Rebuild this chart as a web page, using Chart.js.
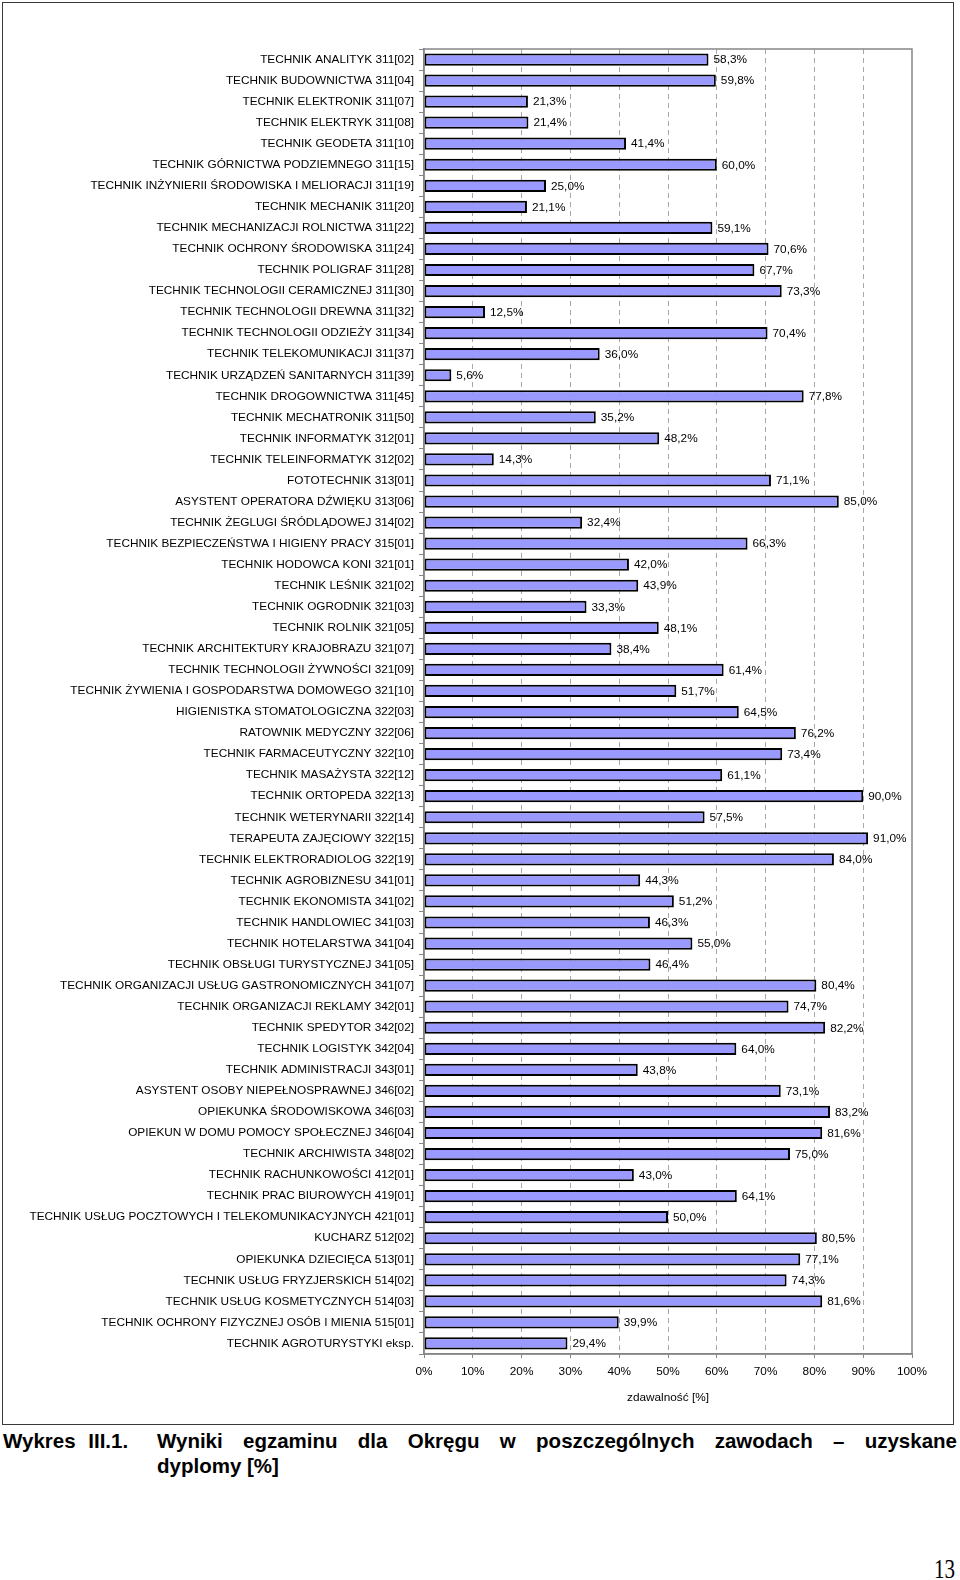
<!DOCTYPE html>
<html lang="pl">
<head>
<meta charset="utf-8">
<title>Wykres III.1</title>
<script src="https://cdn.jsdelivr.net/npm/chart.js@4.4.1/dist/chart.umd.min.js"></script>
<style>
  html, body { margin: 0; padding: 0; background: #fff; }
  body { position: relative; width: 960px; height: 1580px; overflow: hidden; font-family: "Liberation Sans", Arial, sans-serif; }
  #frame { position: absolute; left: 2px; top: 2px; width: 952px; height: 1423px; border: 1.5px solid #3a3a3a; box-sizing: border-box; }
  #chart { position: absolute; left: 0; top: 0; }
  .cap { position: absolute; font-weight: bold; font-size: 20.5px; line-height: 22px; color: #000; white-space: nowrap; }
  #capNo { left: 3px; top: 1430px; word-spacing: 7px; }
  #capLine1 { left: 157px; top: 1430px; width: 800px; text-align: justify; text-align-last: justify; white-space: normal; }
  #capLine2 { left: 157px; top: 1455px; }
  #page { position: absolute; left: 934px; top: 1554px; font-family: "Liberation Serif", "Times New Roman", serif; font-size: 27px; line-height: 30px; transform: scaleX(0.78); transform-origin: left top; }
</style>
</head>
<body>
<div id="frame"></div>
<canvas id="chart" width="960" height="1420"></canvas>
<div class="cap" id="capNo">Wykres III.1.</div>
<div class="cap" id="capLine1">Wyniki egzaminu dla Okręgu w poszczególnych zawodach – uzyskane</div>
<div class="cap" id="capLine2">dyplomy [%]</div>
<div id="page">13</div>

<script>
// zawody (categories)
var zawody = [
  "TECHNIK ANALITYK 311[02]",
  "TECHNIK BUDOWNICTWA 311[04]",
  "TECHNIK ELEKTRONIK 311[07]",
  "TECHNIK ELEKTRYK 311[08]",
  "TECHNIK GEODETA 311[10]",
  "TECHNIK GÓRNICTWA PODZIEMNEGO 311[15]",
  "TECHNIK INŻYNIERII ŚRODOWISKA I MELIORACJI 311[19]",
  "TECHNIK MECHANIK 311[20]",
  "TECHNIK MECHANIZACJI ROLNICTWA 311[22]",
  "TECHNIK OCHRONY ŚRODOWISKA 311[24]",
  "TECHNIK POLIGRAF 311[28]",
  "TECHNIK TECHNOLOGII CERAMICZNEJ 311[30]",
  "TECHNIK TECHNOLOGII DREWNA 311[32]",
  "TECHNIK TECHNOLOGII ODZIEŻY 311[34]",
  "TECHNIK TELEKOMUNIKACJI 311[37]",
  "TECHNIK URZĄDZEŃ SANITARNYCH 311[39]",
  "TECHNIK DROGOWNICTWA 311[45]",
  "TECHNIK MECHATRONIK 311[50]",
  "TECHNIK INFORMATYK 312[01]",
  "TECHNIK TELEINFORMATYK 312[02]",
  "FOTOTECHNIK 313[01]",
  "ASYSTENT OPERATORA DŹWIĘKU 313[06]",
  "TECHNIK ŻEGLUGI ŚRÓDLĄDOWEJ 314[02]",
  "TECHNIK BEZPIECZEŃSTWA I HIGIENY PRACY 315[01]",
  "TECHNIK HODOWCA KONI 321[01]",
  "TECHNIK LEŚNIK 321[02]",
  "TECHNIK OGRODNIK 321[03]",
  "TECHNIK ROLNIK 321[05]",
  "TECHNIK ARCHITEKTURY KRAJOBRAZU 321[07]",
  "TECHNIK TECHNOLOGII ŻYWNOŚCI 321[09]",
  "TECHNIK ŻYWIENIA I GOSPODARSTWA DOMOWEGO 321[10]",
  "HIGIENISTKA STOMATOLOGICZNA 322[03]",
  "RATOWNIK MEDYCZNY 322[06]",
  "TECHNIK FARMACEUTYCZNY 322[10]",
  "TECHNIK MASAŻYSTA 322[12]",
  "TECHNIK ORTOPEDA 322[13]",
  "TECHNIK WETERYNARII 322[14]",
  "TERAPEUTA ZAJĘCIOWY 322[15]",
  "TECHNIK ELEKTRORADIOLOG 322[19]",
  "TECHNIK AGROBIZNESU 341[01]",
  "TECHNIK EKONOMISTA 341[02]",
  "TECHNIK HANDLOWIEC 341[03]",
  "TECHNIK HOTELARSTWA 341[04]",
  "TECHNIK OBSŁUGI TURYSTYCZNEJ 341[05]",
  "TECHNIK ORGANIZACJI USŁUG GASTRONOMICZNYCH 341[07]",
  "TECHNIK ORGANIZACJI REKLAMY 342[01]",
  "TECHNIK SPEDYTOR 342[02]",
  "TECHNIK LOGISTYK 342[04]",
  "TECHNIK ADMINISTRACJI 343[01]",
  "ASYSTENT OSOBY NIEPEŁNOSPRAWNEJ 346[02]",
  "OPIEKUNKA ŚRODOWISKOWA 346[03]",
  "OPIEKUN W DOMU POMOCY SPOŁECZNEJ 346[04]",
  "TECHNIK ARCHIWISTA 348[02]",
  "TECHNIK RACHUNKOWOŚCI 412[01]",
  "TECHNIK PRAC BIUROWYCH 419[01]",
  "TECHNIK USŁUG POCZTOWYCH I TELEKOMUNIKACYJNYCH 421[01]",
  "KUCHARZ 512[02]",
  "OPIEKUNKA DZIECIĘCA 513[01]",
  "TECHNIK USŁUG FRYZJERSKICH 514[02]",
  "TECHNIK USŁUG KOSMETYCZNYCH 514[03]",
  "TECHNIK OCHRONY FIZYCZNEJ OSÓB I MIENIA 515[01]",
  "TECHNIK AGROTURYSTYKI eksp."
];

// zdawalnosc [%]
var zdawalnosc = [
  58.3, 59.8, 21.3, 21.4, 41.4, 60.0, 25.0, 21.1, 59.1, 70.6,
  67.7, 73.3, 12.5, 70.4, 36.0, 5.6, 77.8, 35.2, 48.2, 14.3,
  71.1, 85.0, 32.4, 66.3, 42.0, 43.9, 33.3, 48.1, 38.4, 61.4,
  51.7, 64.5, 76.2, 73.4, 61.1, 90.0, 57.5, 91.0, 84.0, 44.3,
  51.2, 46.3, 55.0, 46.4, 80.4, 74.7, 82.2, 64.0, 43.8, 73.1,
  83.2, 81.6, 75.0, 43.0, 64.1, 50.0, 80.5, 77.1, 74.3, 81.6,
  39.9, 29.4
];

// x axis
var xMin = 0;
var xMax = 100;
var xStep = 10;
var xTitle = "zdawalność [%]";

var axisGray = "#868686";
var gridGray = "#a8a8a8";
var fontSize = 11.8;

Chart.defaults.font.family = '"Liberation Sans", Arial, sans-serif';
Chart.defaults.font.size = fontSize;
Chart.defaults.color = "#000";

function pct(v) {
  return v.toFixed(1).replace(".", ",") + "%";
}

// value labels next to bars
var valueLabels = {
  id: "valueLabels",
  afterDatasetsDraw: function (chart) {
    var ctx = chart.ctx;
    var meta = chart.getDatasetMeta(0);
    ctx.save();
    ctx.font = fontSize + 'px "Liberation Sans", Arial, sans-serif';
    ctx.fillStyle = "#000";
    ctx.textAlign = "left";
    ctx.textBaseline = "middle";
    meta.data.forEach(function (bar, i) {
      ctx.fillText(pct(chart.data.datasets[0].data[i]), bar.x + 5, bar.y + 0.5);
    });
    ctx.restore();
  }
};

// gray frame around plot area
var plotFrame = {
  id: "plotFrame",
  afterDraw: function (chart) {
    var a = chart.chartArea;
    var ctx = chart.ctx;
    ctx.save();
    ctx.strokeStyle = axisGray;
    ctx.lineWidth = 1.5;
    ctx.strokeRect(a.left, a.top, a.right - a.left, a.bottom - a.top);
    ctx.restore();
  }
};

var chart = new Chart(document.getElementById("chart"), {
  type: "bar",
  data: {
    labels: zawody,
    datasets: [
      {
        data: zdawalnosc,
        backgroundColor: "#9999ff",
        borderColor: "#000000",
        borderWidth: 2,
        borderSkipped: false,
        barPercentage: 0.58,
        categoryPercentage: 1
      }
    ]
  },
  options: {
    indexAxis: "y",
    responsive: false,
    animation: false,
    layout: { padding: { top: 49, right: 48, bottom: 11, left: 0 } },
    plugins: {
      legend: { display: false },
      tooltip: { enabled: false }
    },
    scales: {
      x: {
        min: xMin,
        max: xMax,
        ticks: {
          stepSize: xStep,
          padding: 7,
          callback: function (v) { return v + "%"; }
        },
        grid: {
          color: function (c) {
            return c.tick && (c.tick.value === xMin || c.tick.value === xMax) ? "rgba(0,0,0,0)" : gridGray;
          },
          lineWidth: 1,
          tickLength: 4,
          tickColor: axisGray
        },
        border: { color: axisGray, width: 1.5, dash: [5, 4] },
        title: { display: true, text: xTitle, padding: { top: 4, bottom: 4 } },
        afterFit: function (scale) { scale.height = 55; }
      },
      y: {
        ticks: { autoSkip: false, padding: 5 },
        grid: {
          drawOnChartArea: false,
          tickLength: 5,
          tickColor: axisGray
        },
        border: { color: axisGray, width: 1.5 },
        afterFit: function (scale) { scale.width = 424; }
      }
    }
  },
  plugins: [valueLabels, plotFrame]
});
</script>
</body>
</html>
